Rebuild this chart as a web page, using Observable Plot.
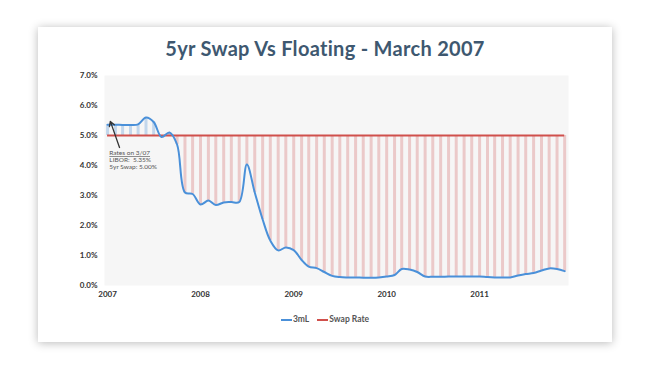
<!DOCTYPE html>
<html><head><meta charset="utf-8">
<script src="https://cdn.jsdelivr.net/npm/d3@7"></script>
<script src="https://cdn.jsdelivr.net/npm/@observablehq/plot@0.6"></script>
<style>
html,body{margin:0;padding:0;background:#fff;width:650px;height:371px;overflow:hidden;font-family:Lato,"Open Sans",sans-serif;}
#card{position:absolute;left:38px;top:27px;width:574px;height:315px;background:#fff;box-shadow:0 1px 9px rgba(0,0,0,0.28);}
#title{position:absolute;left:0;top:9px;width:574px;text-align:center;font-size:20px;font-weight:700;color:#3e5870;letter-spacing:0.3px;}
#chart{position:absolute;left:0;top:30px;}
#legend{position:absolute;left:0;top:287px;width:574px;text-align:center;font-size:8.5px;font-weight:700;color:#555;}
#legend span.sw{display:inline-block;width:11px;height:2px;vertical-align:middle;margin-right:1px;}
#legend span.it{margin:0 4px;}
</style></head>
<body>
<div id="card">
  <div id="title">5yr Swap Vs Floating - March 2007</div>
  <div id="chart"></div>
  <div id="legend"></div>
</div>
<script>
// Monthly dates Jan 2007 – Dec 2011
const months = [
 "2007-01","2007-02","2007-03","2007-04","2007-05","2007-06","2007-07","2007-08","2007-09","2007-10","2007-11","2007-12",
 "2008-01","2008-02","2008-03","2008-04","2008-05","2008-06","2008-07","2008-08","2008-09","2008-10","2008-11","2008-12",
 "2009-01","2009-02","2009-03","2009-04","2009-05","2009-06","2009-07","2009-08","2009-09","2009-10","2009-11","2009-12",
 "2010-01","2010-02","2010-03","2010-04","2010-05","2010-06","2010-07","2010-08","2010-09","2010-10","2010-11","2010-12",
 "2011-01","2011-02","2011-03","2011-04","2011-05","2011-06","2011-07","2011-08","2011-09","2011-10","2011-11","2011-12"];
// 3-month LIBOR (%)
const libor3m = [
 5.36,5.36,5.35,5.35,5.37,5.60,5.45,4.95,5.10,4.70,3.10,3.05,
 2.70,2.83,2.68,2.77,2.78,2.78,4.03,3.10,2.20,1.50,1.17,1.27,
 1.18,0.85,0.63,0.58,0.45,0.32,0.28,0.27,0.27,0.26,0.26,0.27,
 0.30,0.35,0.55,0.53,0.45,0.30,0.29,0.29,0.30,0.30,0.30,0.30,
 0.30,0.28,0.27,0.27,0.27,0.33,0.38,0.42,0.50,0.57,0.55,0.48];
const swapRate = 5.00;
const seriesNames = ["3mL","Swap Rate"];
const seriesColors = ["#4a90d9","#d0504c"];
const yearTicks = [2007,2008,2009,2010,2011];
const yTicks = [0,1,2,3,4,5,6,7];
const calloutLines = ["Rates on 3/07","LIBOR:  5.35%","5yr Swap: 5.00%"];
const calloutArrow = {from:["2007-02-17",4.6], to:["2007-01-12",5.47]};
const calloutAnchor = ["2007-01-08",4.5];

const parse = d3.utcParse("%Y-%m");
const data = months.map((m,i)=>({date:parse(m), v:libor3m[i]}));
const pd = d3.utcParse("%Y-%m-%d");

const chart = Plot.plot({
  width:574, height:250,
  marginLeft:66, marginRight:44, marginTop:18, marginBottom:22,
  style:{fontFamily:"Lato, 'Open Sans', sans-serif", background:"transparent"},
  x:{type:"utc", domain:[pd("2006-12-20"), pd("2011-12-16")], ticks:yearTicks.map(y=>new Date(Date.UTC(y,0,1))), tickFormat:d3.utcFormat("%Y"), tickSize:0, tickPadding:6, label:null},
  y:{domain:[0,7], ticks:yTicks, tickFormat:d=>d.toFixed(1)+"%", tickSize:0, tickPadding:7, label:null},
  marks:[
    Plot.frame({fill:"#f6f6f6", stroke:null}),
    Plot.ruleX(data,{x:"date", y1:swapRate, y2:"v", stroke:d=>d.v>swapRate?"#c3d7ec":"#ebc9c9", strokeWidth:3}),
    Plot.ruleY([swapRate],{x1:data[0].date, x2:data[data.length-1].date, stroke:seriesColors[1], strokeWidth:2}),
    Plot.line(data,{x:"date", y:"v", stroke:seriesColors[0], strokeWidth:2, curve:"catmull-rom"}),
    Plot.arrow([calloutArrow],{x1:d=>pd(d.from[0]), y1:d=>d.from[1], x2:d=>pd(d.to[0]), y2:d=>d.to[1], stroke:"#333", strokeWidth:1.3, headLength:6}),
    Plot.text(calloutLines,{x:pd(calloutAnchor[0]), y:calloutAnchor[1], text:d=>d, textAnchor:"start", lineAnchor:"top", fontSize:6.5, fill:"#555", className:"callout"}),
    Plot.axisX({tickSize:0, tickPadding:6, fontSize:8, fontWeight:700, fill:"#333", ticks:yearTicks.map(y=>new Date(Date.UTC(y,0,1))), tickFormat:d3.utcFormat("%Y")}),
    Plot.axisY({tickSize:0, tickPadding:7, fontSize:8, fontWeight:700, fill:"#333", ticks:yTicks, tickFormat:d=>d.toFixed(1)+"%"})
  ]
});
document.getElementById("chart").appendChild(chart);
// stack callout lines
d3.select(chart).selectAll("g.callout text").each(function(d,i){
  const t=d3.select(this);
  t.attr("transform", (t.attr("transform")||"") + ` translate(0,${i*7})`);
  if(i===0) t.style("text-decoration","underline");
});
const lg=document.getElementById("legend");
seriesNames.forEach((n,i)=>{
  const s=document.createElement("span");s.className="it";
  s.innerHTML=`<span class="sw" style="background:${seriesColors[i]}"></span>${n}`;
  lg.appendChild(s);
});
</script>
</body></html>
